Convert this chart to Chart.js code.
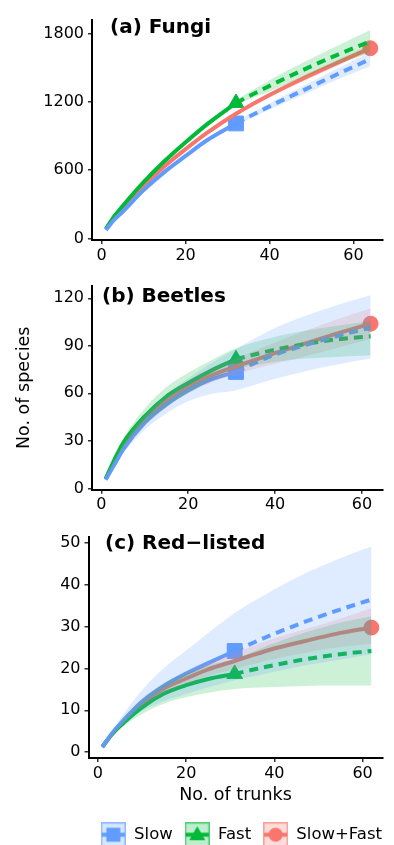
<!DOCTYPE html>
<html>
<head>
<meta charset="utf-8">
<script src="https://cdn.jsdelivr.net/npm/chart.js@4.4.1/dist/chart.umd.min.js"></script>
<style>
  html, body { margin: 0; padding: 0; overflow: hidden; background: #fff; }
  body { position: relative; width: 394px; height: 845px; font-family: "DejaVu Sans", sans-serif; }
  canvas { position: absolute; left: 0; }
  .tag { position: absolute; font-weight: bold; font-size: 20px; line-height: 1; color: #000; white-space: nowrap; }
</style>
</head>
<body>
<canvas id="fungi" width="394" height="270" style="top:0px"></canvas>
<canvas id="beetles" width="394" height="255" style="top:270px"></canvas>
<canvas id="redlisted" width="394" height="328" style="top:525px"></canvas>
<div class="tag" style="left:110px;top:16px">(a) Fungi</div>
<div class="tag" style="left:102px;top:285px">(b) Beetles</div>
<div class="tag" style="left:105px;top:532px">(c) Red−listed</div>
<script>
const FONT = 'DejaVu Sans';
const SLOW = '#619CFF', FAST = '#00BA38', BOTH = '#F8766D';

// (a) Fungi
const fungiObsX = [1, 3, 5, 10, 15, 20, 25, 32];
const fungiExtX = [32, 40, 48, 56, 64];
const fungiAllX = [1, 3, 5, 10, 15, 20, 25, 32, 40, 48, 56, 64];
const fungiSlowObs = [75, 165, 235, 425, 585, 725, 860, 1010];
const fungiFastObs = [85, 195, 285, 495, 680, 845, 1000, 1190];
const fungiSlowExt = [1010, 1160, 1300, 1440, 1575];
const fungiFastExt = [1190, 1340, 1480, 1610, 1730];
const fungiBoth = [80, 180, 262, 465, 635, 785, 925, 1095, 1260, 1405, 1540, 1670];
const fungiSlowLo = [74, 162, 230, 418, 575, 713, 845, 992, 1132, 1262, 1393, 1512];
const fungiSlowHi = [76, 168, 240, 432, 595, 737, 875, 1028, 1188, 1338, 1487, 1638];
const fungiFastLo = [84, 191, 279, 487, 668, 830, 980, 1168, 1290, 1415, 1530, 1630];
const fungiFastHi = [86, 199, 291, 503, 692, 860, 1020, 1212, 1390, 1545, 1690, 1830];
const fungiBothLo = [79, 176, 258, 458, 625, 773, 911, 1078, 1240, 1380, 1512, 1637];
const fungiBothHi = [81, 184, 266, 472, 645, 797, 939, 1112, 1280, 1430, 1568, 1703];
const fungiTicksY = [0, 600, 1200, 1800];

// (b) Beetles
const beetleObsX = [1, 3, 5, 10, 15, 20, 25, 31];
const beetleExtX = [31, 39, 47, 54, 62];
const beetleAllX = [1, 3, 5, 10, 15, 20, 25, 31, 39, 47, 54, 62];
const beetleSlowObs = [5.5, 15, 24.5, 41.5, 53, 62, 68.5, 73.5];
const beetleFastObs = [6, 18, 28.5, 45.5, 58, 66.5, 74, 81.5];
const beetleSlowExt = [73.5, 83.5, 90.5, 96, 101.5];
const beetleFastExt = [81.5, 87, 91.2, 94, 96];
const beetleBoth = [6, 16.5, 26.5, 43, 55, 64, 71, 77, 84.5, 91.5, 97.5, 104];
const beetleSlowLo = [5, 13.5, 22, 37, 47.5, 55, 59.5, 62, 68.5, 74, 78, 82];
const beetleSlowHi = [6.2, 16.5, 27.5, 46.5, 59.5, 69.5, 78.5, 88, 100, 109, 115.5, 122];
const beetleFastLo = [5.5, 16.5, 25.5, 40.5, 52, 60, 68, 75, 79.5, 82, 83, 84];
const beetleFastHi = [6.5, 19.5, 31.5, 50.5, 64, 73, 80.5, 88.5, 95, 99.5, 102.5, 105.5];
const beetleBothLo = [5.5, 15.5, 24.5, 40, 51.5, 60, 66.5, 72, 78, 83.5, 88.5, 94.5];
const beetleBothHi = [6.5, 17.5, 28.5, 46, 58.5, 68, 75.5, 82, 91, 99.5, 106.5, 113.5];
const beetleTicksY = [0, 30, 60, 90, 120];

// (c) Red-listed
const redObsX = [1, 3, 5, 10, 15, 20, 25, 31];
const redExtX = [31, 39, 47, 54, 62];
const redAllX = [1, 3, 5, 10, 15, 20, 25, 31, 39, 47, 54, 62];
const redSlowObs = [1.2, 4.2, 6.7, 12.1, 15.9, 18.8, 21.3, 24.2];
const redFastObs = [1.2, 4.0, 6.2, 10.7, 14.0, 16.0, 17.5, 18.7];
const redSlowExt = [24.2, 27.9, 31.2, 33.8, 36.5];
const redFastExt = [18.7, 20.6, 22.2, 23.3, 24.2];
const redBoth = [1.2, 4.1, 6.5, 11.6, 15.2, 17.6, 19.8, 21.8, 24.5, 26.6, 28.3, 29.8];
const redSlowLo = [1.0, 3.8, 5.8, 9.8, 12.2, 13.9, 15.5, 17.2, 19, 20.8, 22, 23.4];
const redSlowHi = [1.4, 4.6, 7.9, 14.8, 20.1, 24.3, 28.5, 33.3, 38.3, 42.8, 46, 49.2];
const redFastLo = [1.0, 3.7, 5.5, 9.1, 11.6, 13.1, 14.2, 15.1, 15.5, 15.8, 15.9, 15.9];
const redFastHi = [1.4, 4.3, 6.9, 12.3, 16.4, 18.9, 20.8, 22.3, 25.7, 28.6, 30.7, 32.5];
const redBothLo = [1.1, 3.9, 6.1, 10.8, 14.1, 16.2, 18.2, 19.9, 22.1, 23.8, 25.0, 25.9];
const redBothHi = [1.3, 4.3, 6.9, 12.4, 16.3, 19.0, 21.4, 23.7, 26.9, 29.4, 31.6, 34.5];
const redTicksY = [0, 10, 20, 30, 40, 50];

const trunkTicks = [0, 20, 40, 60];
const groups = ['Slow', 'Fast', 'Slow+Fast'];

const pts = (xs, ys) => xs.map((x, i) => ({ x: x, y: ys[i] }));
const last = a => a[a.length - 1];

function alpha(hex, a) {
  const n = parseInt(hex.slice(1), 16);
  return `rgba(${n >> 16}, ${(n >> 8) & 255}, ${n & 255}, ${a})`;
}

function panelSets(p) {
  const sets = [];
  // ribbons go on top, like in the ggplot original
  [[p.slowLo, p.slowHi, SLOW], [p.fastLo, p.fastHi, FAST], [p.bothLo, p.bothHi, BOTH]].forEach(([lo, hi, c]) => {
    sets.push({ data: pts(p.allX, hi), borderWidth: 0, borderColor: 'transparent', backgroundColor: alpha(c, 0.2), fill: '+1', order: 0 });
    sets.push({ data: pts(p.allX, lo), borderWidth: 0, borderColor: 'transparent', fill: false, order: 0 });
  });
  const line = (data, c, dashed) => ({ data: data, borderColor: c, borderWidth: 4, borderDash: dashed ? [9, 6] : [], fill: false, order: 1 });
  sets.push(line(pts(p.obsX, p.slowObs), SLOW, false));
  sets.push(line(pts(p.extX, p.slowExt), SLOW, true));
  sets.push(line(pts(p.obsX, p.fastObs), FAST, false));
  sets.push(line(pts(p.extX, p.fastExt), FAST, true));
  sets.push(line(pts(p.allX, p.both), BOTH, false));
  const mark = (x, y, c, style, r) => ({ data: [{ x: x, y: y }], showLine: false, pointStyle: style, pointRadius: r,
    pointBackgroundColor: c, pointBorderColor: c, pointBorderWidth: 1, order: 2 });
  sets.push(mark(last(p.obsX), last(p.slowObs), SLOW, 'rect', 10.5));
  sets.push(mark(last(p.obsX), last(p.fastObs), FAST, 'triangle', 9));
  sets.push(mark(last(p.allX), last(p.both), BOTH, 'circle', 7.5));
  return sets;
}

function keyImage(c, shape) {
  const k = document.createElement('canvas');
  k.width = 25; k.height = 25;
  const g = k.getContext('2d');
  g.fillStyle = alpha(c, 0.25);
  g.fillRect(0, 0, 25, 25);
  g.strokeStyle = alpha(c, 0.6);
  g.lineWidth = 1.5;
  g.strokeRect(0.75, 0.75, 23.5, 23.5);
  g.strokeStyle = c;
  g.lineWidth = 4;
  g.beginPath(); g.moveTo(1, 12.5); g.lineTo(24, 12.5); g.stroke();
  g.fillStyle = c;
  g.beginPath();
  if (shape === 'rect') g.rect(5.5, 5.5, 14, 14);
  else if (shape === 'triangle') { g.moveTo(12.5, 4); g.lineTo(20.5, 18); g.lineTo(4.5, 18); g.closePath(); }
  else g.arc(12.5, 12.5, 7, 0, Math.PI * 2);
  g.fill();
  return k;
}

function makeChart(id, p, geo) {
  const tickFont = { family: FONT, size: 16 };
  const titleFont = { family: FONT, size: 17.5 };
  new Chart(document.getElementById(id), {
    type: 'line',
    data: { datasets: panelSets(p) },
    options: {
      responsive: false,
      animation: false,
      devicePixelRatio: 1,
      layout: { padding: { top: geo.padTop, left: 0, right: 0, bottom: 0 } },
      elements: { point: { radius: 0 }, line: { cubicInterpolationMode: 'monotone', borderCapStyle: 'butt' } },
      plugins: {
        tooltip: { enabled: false },
        legend: geo.legend ? {
          display: true, position: 'bottom', align: 'end',
          labels: {
            usePointStyle: true, pointStyleWidth: 25, padding: 12, color: '#000',
            font: { family: FONT, size: 16.5 },
            generateLabels: () => groups.map((g, i) => ({
              text: g, pointStyle: keyImage([SLOW, FAST, BOTH][i], ['rect', 'triangle', 'circle'][i]),
              fillStyle: 'transparent', strokeStyle: 'transparent', lineWidth: 0, hidden: false, fontColor: '#000'
            }))
          }
        } : { display: false }
      },
      scales: {
        x: {
          type: 'linear', min: geo.xMin, max: geo.xMax,
          afterBuildTicks: s => { s.ticks = trunkTicks.map(v => ({ value: v })); },
          afterFit: s => { s.height = geo.xH; s.paddingLeft = 0; s.paddingRight = 0; },
          grid: { drawOnChartArea: false, tickLength: 4, color: '#333', lineWidth: 1.5 },
          border: { color: '#000', width: 2 },
          ticks: { font: tickFont, color: '#000', padding: 2, maxRotation: 0, callback: v => String(v) },
          title: geo.xTitle ? { display: true, text: 'No. of trunks', color: '#000', font: titleFont, padding: { top: 0, bottom: 9 } } : { display: false }
        },
        y: {
          min: geo.yMin, max: geo.yMax,
          afterBuildTicks: s => { s.ticks = p.ticksY.map(v => ({ value: v })); },
          afterFit: s => { s.width = geo.yW; s.paddingTop = 0; s.paddingBottom = 0; },
          grid: { drawOnChartArea: false, tickLength: 4, color: '#333', lineWidth: 1.5 },
          border: { color: '#000', width: 2 },
          ticks: { font: tickFont, color: '#000', padding: 4, callback: v => String(v) },
          title: geo.yTitle ? { display: true, text: 'No. of species', color: '#000', font: titleFont, padding: { top: 14, bottom: 0 } } : { display: false }
        }
      }
    }
  });
}

makeChart('fungi', {
  obsX: fungiObsX, extX: fungiExtX, allX: fungiAllX,
  slowObs: fungiSlowObs, fastObs: fungiFastObs, slowExt: fungiSlowExt, fastExt: fungiFastExt, both: fungiBoth,
  slowLo: fungiSlowLo, slowHi: fungiSlowHi, fastLo: fungiFastLo, fastHi: fungiFastHi, bothLo: fungiBothLo, bothHi: fungiBothHi,
  ticksY: fungiTicksY
}, { padTop: 20, xH: 30, yW: 92, xMin: -2.3, xMax: 66.9, yMin: -13, yMax: 1918 });

makeChart('beetles', {
  obsX: beetleObsX, extX: beetleExtX, allX: beetleAllX,
  slowObs: beetleSlowObs, fastObs: beetleFastObs, slowExt: beetleSlowExt, fastExt: beetleFastExt, both: beetleBoth,
  slowLo: beetleSlowLo, slowHi: beetleSlowHi, fastLo: beetleFastLo, fastHi: beetleFastHi, bothLo: beetleBothLo, bothHi: beetleBothHi,
  ticksY: beetleTicksY
}, { padTop: 15.9, xH: 35.3, yW: 92, xMin: -2.15, xMax: 64.74, yMin: -0.85, yMax: 127.85, yTitle: true });

makeChart('redlisted', {
  obsX: redObsX, extX: redExtX, allX: redAllX,
  slowObs: redSlowObs, fastObs: redFastObs, slowExt: redSlowExt, fastExt: redFastExt, both: redBoth,
  slowLo: redSlowLo, slowHi: redSlowHi, fastLo: redFastLo, fastHi: redFastHi, bothLo: redBothLo, bothHi: redBothHi,
  ticksY: redTicksY
}, { padTop: 8.2, xH: 56.6, yW: 88.5, xMin: -2.14, xMax: 64.52, yMin: -1.41, yMax: 51.61, xTitle: true, legend: true });
</script>
</body>
</html>
